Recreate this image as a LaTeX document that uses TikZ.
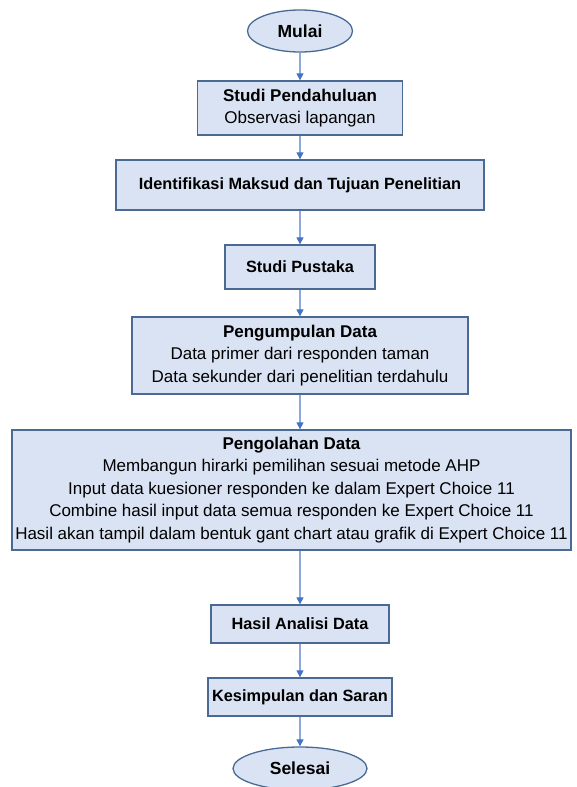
\documentclass[tikz,border=0pt]{standalone}
\usepackage{fontspec}
\setmainfont{Liberation Sans}
\usetikzlibrary{arrows.meta,positioning,shapes.geometric}
\definecolor{boxfill}{HTML}{DAE3F3}
\definecolor{boxline}{HTML}{4A6A94}
\definecolor{arrowline}{HTML}{8EA9DB}
\definecolor{arrowhead}{HTML}{4472C4}

\begin{document}
\begin{tikzpicture}[
    x=1pt, y=-1pt,
    >={Triangle[width=7pt,length=7pt,color=arrowhead]},
    stepbox/.style={draw=boxline, fill=boxfill, line width=1.3pt, align=center, inner sep=0pt, font=\fontsize{17}{22.5}\selectfont},
    titlebox/.style={stepbox, font=\fontsize{16.3}{22.5}\selectfont\bfseries},
    term/.style={ellipse, draw=boxline, fill=boxfill, line width=1.3pt, inner sep=0pt, font=\fontsize{17.5}{20}\selectfont\bfseries},
    flow/.style={->, draw=arrowline, line width=1.1pt}
]
\useasboundingbox (0,0) rectangle (577,787);

\node[term, minimum width=105, minimum height=42] (mulai) at (300,31) {Mulai};
\node[stepbox, minimum width=205, minimum height=54] (studi) at (300,108) {{\bfseries Studi Pendahuluan}\\Observasi lapangan};
\node[titlebox, minimum width=368, minimum height=50] (ident) at (300,185) {Identifikasi Maksud dan Tujuan Penelitian};
\node[titlebox, minimum width=150, minimum height=44] (pustaka) at (300,267) {Studi Pustaka};
\node[stepbox, minimum width=336, minimum height=77] (kumpul) at (300,355.5) {{\bfseries Pengumpulan Data}\\Data primer dari responden taman\\Data sekunder dari penelitian terdahulu};
\node[stepbox, minimum width=559, minimum height=120] (olah) at (291.5,490) {{\bfseries Pengolahan Data}\\Membangun hirarki pemilihan sesuai metode AHP\\Input data kuesioner responden ke dalam Expert Choice 11\\Combine hasil input data semua responden ke Expert Choice 11\\Hasil akan tampil dalam bentuk gant chart atau grafik di Expert Choice 11};
\node[titlebox, minimum width=178, minimum height=38] (hasil) at (300,624) {Hasil Analisi Data};
\node[titlebox, minimum width=184, minimum height=38] (simpul) at (300,697) {Kesimpulan dan Saran};
\node[term, minimum width=134, minimum height=43] (selesai) at (300,768.5) {Selesai};

% connectors
\draw[flow] (mulai) -- (studi);
\draw[flow] (studi) -- (ident);
\draw[flow] (ident) -- (pustaka);
\draw[flow] (pustaka) -- (kumpul);
\draw[flow] (kumpul.south) -- (kumpul.south |- olah.north);
\draw[flow] (olah.south -| hasil.north) -- (hasil);
\draw[flow] (hasil) -- (simpul);
\draw[flow] (simpul) -- (selesai);
\end{tikzpicture}
\end{document}
